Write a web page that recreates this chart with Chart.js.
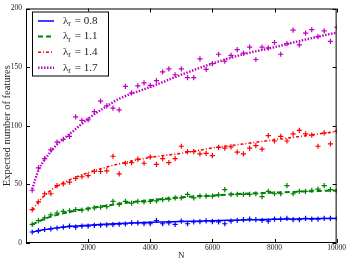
<!DOCTYPE html>
<html>
<head>
<meta charset="utf-8">
<script src="https://cdn.jsdelivr.net/npm/chart.js@4.4.1/dist/chart.umd.min.js"></script>
<style>
  html, body { margin: 0; padding: 0; background: #fff; }
</style>
</head>
<body>
<canvas id="chart" width="347" height="261"></canvas>
<script>
/* -------------------------------
   DATA
--------------------------------*/
const nValues = [200, 400, 600, 800, 1000, 1200, 1400, 1600, 1800, 2000,
  2200, 2400, 2600, 2800, 3000, 3200, 3400, 3600, 3800, 4000,
  4200, 4400, 4600, 4800, 5000, 5200, 5400, 5600, 5800, 6000,
  6200, 6400, 6600, 6800, 7000, 7200, 7400, 7600, 7800, 8000,
  8200, 8400, 8600, 8800, 9000, 9200, 9400, 9600, 9800, 10000];

const blueSim = [9.4, 10.3, 11.5, 12, 12.8, 13.5, 14.4, 13.6, 14.4, 14.4,
  15, 15.2, 15.4, 15.6, 16, 16.2, 17.2, 17.2, 16.4, 16.4,
  19.2, 16.4, 17.2, 15.8, 18.6, 16.4, 18, 18.3, 18.9, 18.3,
  18, 16.4, 18.6, 19.2, 20, 20.3, 20, 19.2, 18.6, 20.3,
  20.3, 21, 20, 20, 21, 20.3, 20.3, 21, 21, 21];

const greenSim = [15.8, 19, 21.5, 24, 25.5, 27, 27.5, 28.5, 28, 29,
  30, 30.5, 31, 35.5, 33, 35.5, 34, 35.5, 35, 35.5,
  36, 37, 37.5, 38.5, 38.5, 41.5, 38.5, 40, 40, 40,
  41, 45.5, 41.5, 41.5, 41.5, 41.5, 42, 39.5, 44, 42,
  42, 49, 42, 44, 44, 45, 46, 49, 45.5, 44.5];

const redSim = [28.5, 35, 42, 42, 49, 50.5, 52, 55, 56.5, 57.5,
  61, 61, 61.5, 74, 59, 68, 68.5, 71.5, 68, 73.5,
  67, 72, 68.5, 72, 82.5, 78, 78, 76, 76.5, 74.5,
  81.5, 81, 82, 77.5, 76, 81, 83, 80, 91.5, 87,
  91, 87, 93, 96, 93, 92, 82.5, 94, 84.5, 95.5];

const magentaSim = [45, 64, 72, 79.5, 86, 88.5, 91, 107.5, 104.5, 105,
  112, 121, 117, 115, 113.5, 133.5, 128, 134, 136.5, 134.5,
  138.5, 146, 148.5, 143.5, 148.5, 141, 141, 157, 148, 153,
  161, 155, 160, 165, 162, 167, 156.5, 167, 166.5, 171,
  161, 170, 181.5, 169, 179, 182, 176, 181, 172, 184];

// fitted curves
const fitN = [200, 400, 600, 800, 1000, 1500, 2000, 2500, 3000, 4000, 5000, 6000, 7000, 8000, 9000, 10000];
const blueFit = [9.3, 10.5, 11.4, 12.2, 12.9, 14.2, 15.2, 16, 16.6, 17.6, 18.4, 19, 19.6, 20.2, 20.6, 21];
const greenFit = [15.5, 18.5, 20.5, 22.5, 24, 27, 29.5, 31.5, 33.5, 36.5, 39, 40.5, 42, 43, 44, 44.8];
const redFit = [28, 35, 40.5, 45, 48.5, 55, 60, 64, 67.5, 73, 76.5, 81, 84.5, 88, 91.5, 95];
const magentaFit = [46, 62, 71, 78, 84, 95, 106, 115, 123, 133, 143.5, 153, 161, 167, 173.5, 179.5];

const lambdas = ["0.8", "1.1", "1.4", "1.7"];
const xTicks = [2000, 4000, 6000, 8000, 10000];
const yTicks = [0, 50, 100, 150, 200];

const SERIF = "'Liberation Serif', 'DejaVu Serif', serif";

function pts(xs, ys) {
  return xs.map((x, i) => ({ x: x, y: ys[i] }));
}

const series = [
  { sim: blueSim, fit: blueFit, color: "#0000ff", dash: [], width: 1.5 },
  { sim: greenSim, fit: greenFit, color: "#008000", dash: [5, 3], width: 2 },
  { sim: redSim, fit: redFit, color: "#ff0000", dash: [3, 2, 1, 2], width: 1.6 },
  { sim: magentaSim, fit: magentaFit, color: "#c000c0", dash: [1.5, 1.5], width: 2.4 }
];

const datasets = [];
series.forEach((s, i) => {
  datasets.push({
    label: "fit" + i,
    data: pts(fitN, s.fit),
    showLine: true,
    borderColor: s.color,
    borderWidth: s.width,
    borderDash: s.dash,
    pointRadius: 0,
    cubicInterpolationMode: "monotone",
    fitLine: true,
    lam: lambdas[i]
  });
  datasets.push({
    label: "sim" + i,
    data: pts(nValues, s.sim),
    showLine: false,
    pointStyle: "cross",
    pointRadius: 2.6,
    pointBorderWidth: 1.2,
    borderColor: s.color,
    backgroundColor: s.color
  });
});

/* -------------------------------
   FRAME, INWARD TICKS, LEGEND
--------------------------------*/
const framePlugin = {
  id: "frame",
  afterDraw(chart) {
    const { ctx, chartArea: a, scales } = chart;
    const x = scales.x, y = scales.y;
    ctx.save();
    ctx.strokeStyle = "#000";
    ctx.lineWidth = 1;
    ctx.strokeRect(a.left + 0.5, a.top + 0.5, a.right - a.left - 1, a.bottom - a.top - 1);

    ctx.beginPath();
    xTicks.forEach(v => {
      const px = Math.round(x.getPixelForValue(v)) + 0.5;
      ctx.moveTo(px, a.bottom); ctx.lineTo(px, a.bottom - 4);
      ctx.moveTo(px, a.top); ctx.lineTo(px, a.top + 4);
    });
    yTicks.forEach(v => {
      const py = Math.round(y.getPixelForValue(v)) + 0.5;
      ctx.moveTo(a.left, py); ctx.lineTo(a.left + 4, py);
      ctx.moveTo(a.right, py); ctx.lineTo(a.right - 4, py);
    });
    ctx.stroke();

    // legend box
    const bx = a.left + 6, by = a.top + 3, bw = 76, bh = 64;
    ctx.fillStyle = "#fff";
    ctx.fillRect(bx, by, bw, bh);
    ctx.strokeStyle = "#000";
    ctx.lineWidth = 1;
    ctx.strokeRect(bx + 0.5, by + 0.5, bw, bh);

    const fits = chart.data.datasets.filter(d => d.fitLine);
    fits.forEach((d, i) => {
      const ry = by + 9.5 + i * 15.6;
      ctx.beginPath();
      ctx.strokeStyle = d.borderColor;
      ctx.lineWidth = d.borderWidth;
      ctx.setLineDash(d.borderDash);
      ctx.moveTo(bx + 6, ry);
      ctx.lineTo(bx + 22, ry);
      ctx.stroke();
      ctx.setLineDash([]);

      ctx.fillStyle = "#222";
      ctx.textBaseline = "middle";
      ctx.textAlign = "left";
      let tx = bx + 31;
      ctx.font = "11px " + SERIF;
      ctx.fillText("λ", tx, ry);
      tx += ctx.measureText("λ").width;
      ctx.font = "8px " + SERIF;
      ctx.fillText("r", tx, ry + 3);
      tx += ctx.measureText("r").width + 1;
      ctx.font = "11px " + SERIF;
      ctx.fillText(" = " + d.lam, tx, ry);
    });
    ctx.restore();
  }
};

/* -------------------------------
   CHART
--------------------------------*/
new Chart(document.getElementById("chart"), {
  type: "scatter",
  data: { datasets },
  options: {
    responsive: false,
    animation: false,
    devicePixelRatio: 1,
    layout: { padding: { top: 3, right: 10, left: 0, bottom: 0 } },
    plugins: { legend: { display: false }, tooltip: { enabled: false } },
    scales: {
      x: {
        type: "linear",
        min: 0,
        max: 10000,
        afterFit(s) { s.height = 18; },
        afterBuildTicks(s) { s.ticks = xTicks.map(v => ({ value: v })); },
        grid: { display: false, drawTicks: false },
        border: { display: false },
        ticks: {
          color: "#222",
          padding: 1,
          maxRotation: 0,
          font: { family: SERIF, size: 7.5 },
          callback: v => String(v)
        },
        title: {
          display: true,
          text: "N",
          color: "#222",
          font: { family: SERIF, size: 9, lineHeight: 1 },
          padding: { top: 0, bottom: 1 }
        }
      },
      y: {
        min: 0,
        max: 200,
        afterFit(s) { s.width = 26; },
        afterBuildTicks(s) { s.ticks = yTicks.map(v => ({ value: v })); },
        grid: { display: false, drawTicks: false },
        border: { display: false },
        ticks: {
          color: "#222",
          padding: 4,
          font: { family: SERIF, size: 7.5 },
          callback: v => String(v)
        },
        title: {
          display: true,
          text: "Expected number of features",
          color: "#222",
          font: { family: SERIF, size: 10.5, lineHeight: 1 },
          padding: { top: 2, bottom: 0 }
        }
      }
    }
  },
  plugins: [framePlugin]
});
</script>
</body>
</html>
